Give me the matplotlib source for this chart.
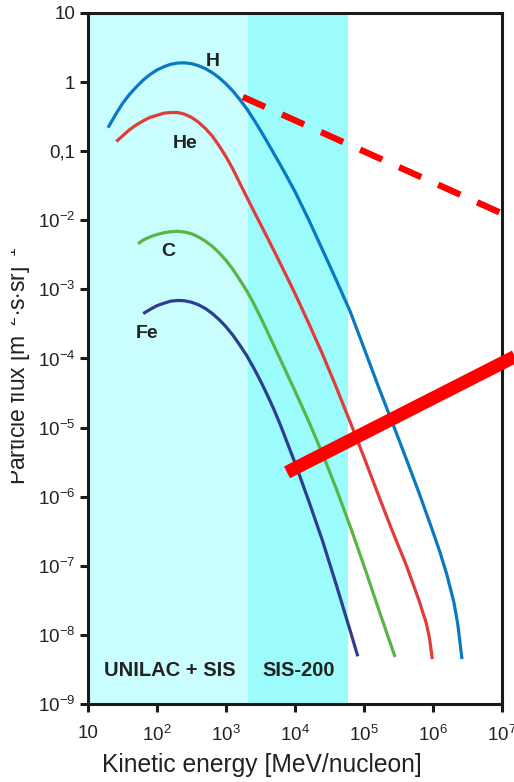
import matplotlib
matplotlib.use("Agg")
import matplotlib.pyplot as plt
from matplotlib.patches import Rectangle

plt.rcParams['font.family'] = ['Liberation Sans', 'DejaVu Sans']
plt.rcParams['mathtext.fontset'] = 'custom'
plt.rcParams['mathtext.rm'] = 'Liberation Sans'
plt.rcParams['mathtext.it'] = 'Liberation Sans:italic'
plt.rcParams['mathtext.bf'] = 'Liberation Sans:bold'

# spectra (kinetic energy MeV/u, flux)
h_energy = [19.5, 25.1, 31.6, 39.8, 50.1, 63.1, 79.4, 100, 126, 158, 200, 251, 316, 398, 501, 631, 794,
            1000, 1260, 1580, 2000, 2510, 3160, 3980, 5010, 6310, 7940, 10000, 15800, 25100, 39800,
            63100, 1.0e5, 1.58e5, 2.51e5, 3.98e5, 6.31e5, 1.0e6, 1.26e6, 1.58e6, 2.0e6, 2.29e6, 2.63e6]
h_flux = [0.219, 0.339, 0.490, 0.661, 0.851, 1.07, 1.29, 1.50, 1.67, 1.81, 1.89, 1.90, 1.85, 1.73, 1.57,
          1.37, 1.16, 0.942, 0.741, 0.562, 0.411, 0.290, 0.200, 0.135, 0.0902, 0.0603, 0.0398, 0.0260,
          0.0102, 3.72e-3, 1.35e-3, 4.79e-4, 1.41e-4, 4.17e-5, 1.26e-5, 3.80e-6, 1.12e-6, 3.09e-7,
          1.58e-7, 7.59e-8, 3.02e-8, 1.41e-8, 4.47e-9]

he_energy = [25.7, 31.6, 39.8, 50.1, 63.1, 79.4, 100, 126, 158, 200, 251, 316, 398, 501, 631, 794, 1000,
             1260, 1580, 2510, 3980, 6310, 10000, 15800, 25100, 39800, 63100, 1.0e5, 1.58e5, 2.51e5,
             3.98e5, 5.01e5, 6.31e5, 7.94e5, 8.91e5, 9.77e5]
he_flux = [0.138, 0.166, 0.204, 0.240, 0.275, 0.309, 0.331, 0.355, 0.363, 0.363, 0.343, 0.309, 0.263,
           0.214, 0.166, 0.120, 0.0832, 0.0550, 0.0347, 0.0138, 5.62e-3, 2.24e-3, 8.71e-4, 3.24e-4,
           1.15e-4, 3.80e-5, 1.20e-5, 3.72e-6, 1.12e-6, 3.39e-7, 1.10e-7, 5.89e-8, 3.09e-8, 1.51e-8,
           8.91e-9, 4.47e-9]

c_energy = [53.1, 63.1, 79.4, 100, 126, 158, 200, 251, 316, 398, 501, 631, 794, 1000, 1260, 1580, 2000,
            2510, 3160, 3980, 6310, 10000, 15800, 25100, 39800, 63100, 1.0e5, 1.58e5, 2.24e5, 2.82e5]
c_flux = [4.57e-3, 5.19e-3, 5.75e-3, 6.24e-3, 6.61e-3, 6.84e-3, 6.92e-3, 6.76e-3, 6.38e-3, 5.75e-3,
          5.01e-3, 4.22e-3, 3.39e-3, 2.63e-3, 1.95e-3, 1.38e-3, 9.55e-4, 6.31e-4, 3.98e-4, 2.45e-4,
          9.12e-5, 3.39e-5, 1.23e-5, 4.17e-6, 1.29e-6, 3.72e-7, 1.0e-7, 2.57e-8, 9.33e-9, 4.79e-9]

fe_energy = [63.1, 79.4, 100, 126, 158, 200, 251, 316, 398, 501, 631, 794, 1000, 1260, 1580, 2000, 2510,
             3160, 3980, 5010, 6310, 10000, 15800, 25100, 39800, 63100, 81300]
fe_flux = [4.47e-4, 5.13e-4, 5.82e-4, 6.31e-4, 6.76e-4, 6.92e-4, 6.85e-4, 6.53e-4, 6.00e-4, 5.30e-4,
           4.49e-4, 3.66e-4, 2.88e-4, 2.17e-4, 1.57e-4, 1.10e-4, 7.36e-5, 4.75e-5, 2.95e-5, 1.78e-5,
           1.02e-5, 3.09e-6, 8.71e-7, 2.29e-7, 5.25e-8, 1.15e-8, 4.90e-9]

# red reference lines
dash_energy = [1760, 2.0e7]
dash_flux = [0.61, 9.2e-3]
thick_energy = [7660, 2.0e7]
thick_flux = [2.25e-6, 1.22e-4]

# accelerator ranges
unilac_range = [10, 2080]
sis200_range = [2080, 58600]

x_ticks = [1e1, 1e2, 1e3, 1e4, 1e5, 1e6, 1e7]
x_labels = ['10'] + [r'$\mathregular{10^{%d}}$' % k for k in range(2, 8)]
y_ticks = [1e1, 1e0, 1e-1] + [10.0 ** -k for k in range(2, 10)]
y_labels = ['10', '1', '0,1'] + [r'$\mathregular{10^{-%d}}$' % k for k in range(2, 10)]

W, H = 514, 782
fig = plt.figure(figsize=(W / 100, H / 100), dpi=100)
ax = fig.add_axes([88 / W, 1 - 704 / H, 414 / W, 691 / H])
ax.set_xscale('log')
ax.set_yscale('log')
ax.set_xlim(10, 1e7)
ax.set_ylim(1e-9, 10)

ax.axvspan(*unilac_range, color='#CAFDFD', lw=0, zorder=0)
ax.axvspan(*sis200_range, color='#9CFCFC', lw=0, zorder=0)

ax.plot(h_energy, h_flux, color='#0A78C2', lw=2.3, solid_capstyle='butt', zorder=3)
ax.plot(he_energy, he_flux, color='#E03C3C', lw=2.3, solid_capstyle='butt', zorder=3)
ax.plot(c_energy, c_flux, color='#58B548', lw=2.3, solid_capstyle='butt', zorder=3)
ax.plot(fe_energy, fe_flux, color='#2E3E8E', lw=2.3, solid_capstyle='butt', zorder=3)

ax.plot(dash_energy, dash_flux, color='#FF0000', lw=4.6, dashes=(3.8, 2.9),
        dash_capstyle='butt', clip_on=False, zorder=4)
ax.plot(thick_energy, thick_flux, color='#FF0000', lw=9.5, solid_capstyle='butt',
        clip_on=False, zorder=4)

lab = dict(fontsize=14, fontweight='bold', color='#222222', ha='center', va='baseline')
ax.text(646, 1.71, 'H', **lab)
ax.text(259, 0.112, 'He', **lab)
ax.text(146, 3.0e-3, 'C', **lab)
ax.text(71, 2.0e-4, 'Fe', **lab)
lab['fontsize'] = 14.5
ax.text(153, 2.54e-9, 'UNILAC + SIS', **lab)
ax.text(1.13e4, 2.54e-9, 'SIS-200', **lab)

for s in ax.spines.values():
    s.set_linewidth(2.2)
    s.set_color('#1a1a1a')
ax.set_xticks(x_ticks)
ax.set_xticklabels(x_labels)
ax.set_yticks(y_ticks)
ax.set_yticklabels(y_labels)
ax.minorticks_off()
ax.tick_params(direction='out', length=6, width=2.2, color='#1a1a1a',
               labelsize=13.5, labelcolor='#222222', pad=3)
ax.tick_params(axis='x', pad=9)

fig.text(262 / W, 1 - 772 / H, 'Kinetic energy [MeV/nucleon]', fontsize=17.7,
         color='#222222', ha='center', va='baseline')
fig.text(26 / W, 1 - 485 / H, r'Particle flux [m$^{-2}$$\cdot$s$\cdot$sr]$^{-1}$',
         rotation=90, fontsize=16.5, color='#222222', ha='left', va='baseline',
         rotation_mode='anchor')
fig.patches.append(Rectangle((0, 0), 11 / W, 1, transform=fig.transFigure,
                             facecolor='white', edgecolor='none', zorder=10))

fig.savefig('out.png', dpi=100)
